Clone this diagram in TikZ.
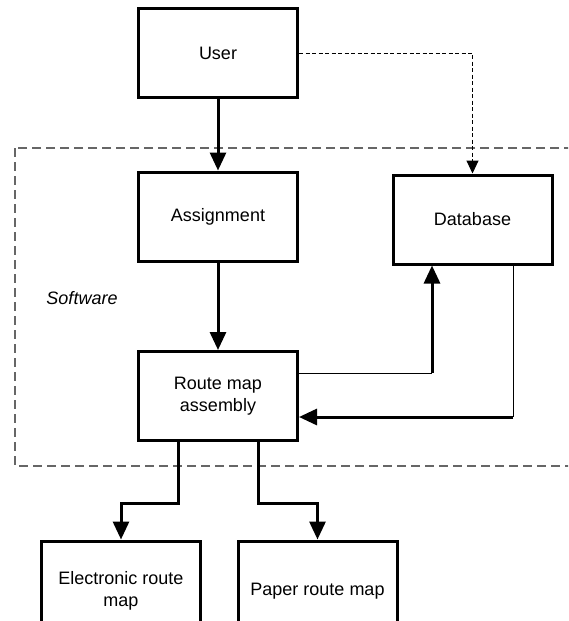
\documentclass[tikz,border=0pt]{standalone}
\usepackage{fontspec}
\setmainfont{Liberation Sans}
\usetikzlibrary{arrows.meta}
\begin{document}
\begin{tikzpicture}[x=1pt,y=-1pt,
  box/.style={draw,line width=3pt,minimum width=159pt,minimum height=89pt,
    align=center,font=\fontsize{18}{22}\selectfont,inner sep=0pt},
  flow/.style={line width=3pt,-{Triangle[length=18pt,width=16pt]}},
  thinlink/.style={line width=1pt},
  weblink/.style={line width=1pt,dash pattern=on 4pt off 2.5pt,
    -{Triangle[length=13pt,width=12pt]}},
  region/.style={draw=black!60,line width=1.2pt,dash pattern=on 9pt off 5pt}]
\useasboundingbox (0,0) rectangle (568,621);
\clip (0,0) rectangle (568,621);
\fill[white] (0,0) rectangle (568,621);

% software boundary
\draw[region] (15,148) rectangle (620,466);
\node[font=\fontsize{18}{22}\selectfont\itshape] (sw) at (82,298) {Software};

% blocks
\node[box] (user)   at (218,53)    {User};
\node[box] (assign) at (218,216.5) {Assignment};
\node[box] (db)     at (472.5,219.5) {Database};
\node[box] (route)  at (218,396)   {Route map\\assembly};
\node[box,minimum height=100pt] (elec)  at (121,591) {Electronic route\\map};
\node[box,minimum height=100pt] (paper) at (317.5,591) {Paper route map};

% bend points
\coordinate (c1) at (432,373);
\coordinate (c2) at (513,417);
\coordinate (e1) at (178,503);
\coordinate (p1) at (258,503);

% connectors
\draw[flow] (user.south) -- (assign.north);
\draw[weblink] (user.east) -| (db.north);
\draw[flow] (assign.south) -- (route.north);
\draw[thinlink] (route.east|-c1) -- (c1);
\draw[flow] (c1) -- (c1|-db.south);
\draw[thinlink] (c2|-db.south) -- (c2);
\draw[flow] (c2) -- (c2-|route.east);
\draw[flow] (e1|-route.south) -- (e1) -| (elec.north);
\draw[flow] (p1|-route.south) -- (p1) -| (paper.north);
\end{tikzpicture}
\end{document}
